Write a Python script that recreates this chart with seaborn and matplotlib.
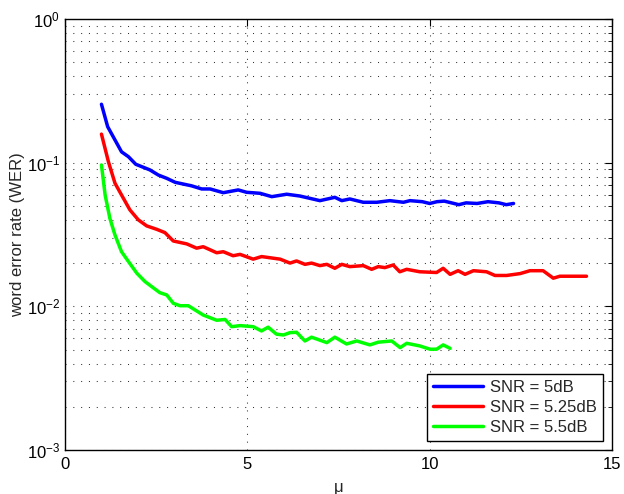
import numpy as np
import pandas as pd
import matplotlib
matplotlib.use("Agg")
import matplotlib.pyplot as plt
import seaborn as sns
from matplotlib.ticker import LogLocator, FixedLocator, NullFormatter

# ---- data ----
mu_5 = [1.0, 1.17, 1.55, 1.74, 1.94, 2.33, 2.56, 2.79, 3.02, 3.47, 3.75, 3.98,
        4.34, 4.75, 4.98, 5.35, 5.67, 6.08, 6.44, 6.99, 7.40, 7.59, 7.81, 8.18,
        8.55, 8.91, 9.28, 9.46, 9.8, 10.0, 10.2, 10.4, 10.6, 10.8, 11.0, 11.3,
        11.6, 11.9, 12.1, 12.3]
wer_5 = [0.255, 0.178, 0.119, 0.110, 0.0975, 0.089, 0.082, 0.0778, 0.073, 0.069,
         0.0656, 0.0656, 0.0618, 0.0646, 0.0622, 0.0612, 0.058, 0.0603, 0.0586,
         0.0544, 0.0574, 0.0544, 0.0559, 0.053, 0.053, 0.0544, 0.053, 0.0544,
         0.0535, 0.052, 0.0535, 0.054, 0.0525, 0.051, 0.0525, 0.052, 0.0535,
         0.0525, 0.051, 0.052]

mu_525 = [1.0, 1.19, 1.37, 1.55, 1.78, 2.01, 2.24, 2.51, 2.74, 2.97, 3.34, 3.61,
          3.79, 4.16, 4.34, 4.61, 4.80, 5.16, 5.39, 5.90, 6.17, 6.35, 6.58, 6.76,
          6.99, 7.18, 7.40, 7.59, 7.81, 8.18, 8.41, 8.59, 8.77, 9.00, 9.18, 9.37,
          9.73, 10.19, 10.37, 10.56, 10.78, 10.97, 11.20, 11.56, 11.79, 12.11,
          12.48, 12.75, 13.11, 13.39, 13.57, 14.3]
wer_525 = [0.158, 0.1016, 0.072, 0.0596, 0.0469, 0.040, 0.0363, 0.0344, 0.0326,
           0.0285, 0.0272, 0.0254, 0.026, 0.0236, 0.024, 0.0225, 0.0230, 0.0213,
           0.0222, 0.0213, 0.0200, 0.0207, 0.0196, 0.0200, 0.0192, 0.0196, 0.0184,
           0.0196, 0.0189, 0.0192, 0.0181, 0.0189, 0.0186, 0.0194, 0.0174, 0.0181,
           0.0174, 0.0172, 0.0184, 0.0167, 0.0177, 0.0167, 0.0177, 0.0174, 0.0164,
           0.0164, 0.0169, 0.0177, 0.0177, 0.0157, 0.0162, 0.0162]

mu_55 = [1.0, 1.10, 1.23, 1.37, 1.55, 1.74, 1.97, 2.19, 2.38, 2.60, 2.79, 2.97,
         3.15, 3.38, 3.79, 4.16, 4.39, 4.57, 4.80, 5.16, 5.39, 5.57, 5.80, 5.99,
         6.17, 6.35, 6.58, 6.76, 7.18, 7.40, 7.72, 8.0, 8.36, 8.59, 8.96, 9.19,
         9.37, 9.73, 10.01, 10.19, 10.37, 10.56]
wer_55 = [0.0964, 0.0596, 0.041, 0.0314, 0.024, 0.0205, 0.017, 0.0149, 0.0137,
          0.01245, 0.0120, 0.0105, 0.0101, 0.0101, 0.0087, 0.0080, 0.0081, 0.00722,
          0.00734, 0.00722, 0.00674, 0.00716, 0.0064, 0.00632, 0.00656, 0.0066,
          0.00574, 0.0061, 0.00559, 0.0061, 0.00547, 0.00574, 0.00539, 0.00563,
          0.00574, 0.00516, 0.00553, 0.0053, 0.00503, 0.00503, 0.00539, 0.0051]

labels = ["SNR = 5dB", "SNR = 5.25dB", "SNR = 5.5dB"]
colors = ["#0000ff", "#ff0000", "#00ff00"]

df = pd.concat([
    pd.DataFrame({"mu": mu_5, "wer": wer_5, "series": labels[0]}),
    pd.DataFrame({"mu": mu_525, "wer": wer_525, "series": labels[1]}),
    pd.DataFrame({"mu": mu_55, "wer": wer_55, "series": labels[2]}),
], ignore_index=True)

sns.set_style("white")
plt.rcParams["font.family"] = ["Liberation Sans", "DejaVu Sans"]
plt.rcParams["mathtext.fontset"] = "custom"
plt.rcParams["mathtext.rm"] = "Liberation Sans"
plt.rcParams["mathtext.it"] = "Liberation Sans:italic"

fig = plt.figure(figsize=(6.24, 4.94), dpi=100)
ax = fig.add_axes([65 / 624, 1 - 450 / 494, (612 - 65) / 624, (450 - 19) / 494])

sns.lineplot(data=df, x="mu", y="wer", hue="series", palette=colors,
             hue_order=labels, sort=False, estimator=None, linewidth=2.5, ax=ax)

ax.set_yscale("log")
ax.set_xlim(0, 15)
ax.set_ylim(1e-3, 1)
ax.xaxis.set_major_locator(FixedLocator([0, 5, 10, 15]))
ax.yaxis.set_major_locator(LogLocator(base=10, numticks=10))
ax.yaxis.set_minor_locator(LogLocator(base=10, subs=np.arange(2, 10), numticks=20))
ax.yaxis.set_minor_formatter(NullFormatter())

grid_kw = dict(color="#333333", linestyle=(0, (1, 6.5)), linewidth=0.75)
ax.grid(True, which="major", axis="both", **grid_kw)
ax.grid(True, which="minor", axis="y", **grid_kw)

for s in ax.spines.values():
    s.set_visible(True)
    s.set_color("black")
    s.set_linewidth(1.0)

ax.tick_params(which="both", direction="in", top=True, right=True, labelsize=12, colors="black")
ax.tick_params(which="major", length=5)
ax.tick_params(which="minor", length=3)
ax.tick_params(axis="x", pad=5)

ax.set_xlabel("μ", fontsize=12, labelpad=6)
ax.set_ylabel("word error rate (WER)", fontsize=12, labelpad=1)

leg = ax.legend(loc="lower right", fontsize=12, frameon=True, fancybox=False,
                edgecolor="black", framealpha=1, borderaxespad=0.55,
                handlelength=3.0, handletextpad=0.45, labelspacing=0.3,
                borderpad=0.35)
leg.get_frame().set_linewidth(1.0)

fig.savefig("out.png", dpi=100, facecolor="white")
